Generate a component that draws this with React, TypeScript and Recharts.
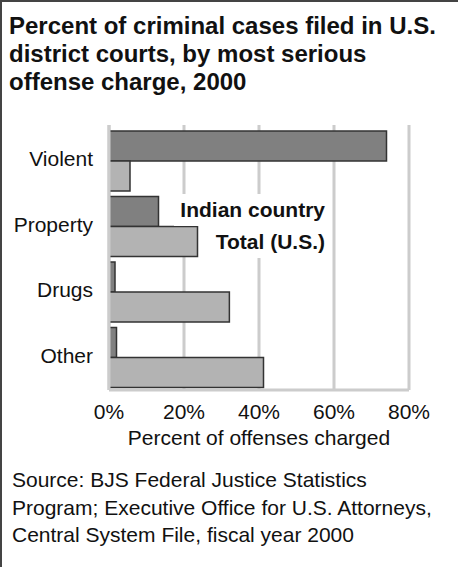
import {
  BarChart,
  Bar,
  XAxis,
  YAxis,
  CartesianGrid,
  Legend,
} from "recharts";

const categories = ["Violent", "Property", "Drugs", "Other"];
const indianCountry = [74, 13.2, 1.6, 2.0];
const totalUS = [5.6, 23.6, 32.1, 41.2];
const xTicks = [0, 20, 40, 60, 80];

const data = categories.map((name, i) => ({
  name,
  indian: indianCountry[i],
  total: totalUS[i],
}));

const FONT = '"Liberation Sans", Arial, Helvetica, sans-serif';
const frame = { stroke: "#cccccc", strokeWidth: 3 };

// labels sit inside the plot, each on its own white patch
function LegendBox({ payload }: any) {
  return (
    <div
      style={{
        width: 160,
        textAlign: "right",
        fontWeight: "bold",
        fontSize: 21,
        lineHeight: "32px",
        color: "#111",
        whiteSpace: "nowrap",
      }}
    >
      {(payload || []).map((p: any) => (
        <div key={p.value}>
          <span
            style={{
              display: "inline-block",
              background: "#fff",
              padding: "3px 5px 3px 6px",
              lineHeight: "26px",
            }}
          >
            {p.value}
          </span>
        </div>
      ))}
    </div>
  );
}

export default function App() {
  return (
    <div
      style={{
        position: "absolute",
        left: 0,
        top: 0,
        width: 458,
        height: 567,
        background: "#fff",
        fontFamily: FONT,
        color: "#111",
        overflow: "hidden",
      }}
    >
      <div
        style={{
          position: "absolute",
          left: 0,
          top: 0,
          width: 458,
          height: 567,
          borderLeft: "2px solid #444",
          borderTop: "2px solid #444",
          boxSizing: "border-box",
        }}
      />
      <div
        style={{
          position: "absolute",
          left: 9,
          top: 12,
          fontSize: 24,
          fontWeight: "bold",
          lineHeight: "28px",
          whiteSpace: "nowrap",
        }}
      >
        Percent of criminal cases filed in U.S.
        <br />
        district courts, by most serious
        <br />
        offense charge, 2000
      </div>

      <div style={{ position: "absolute", left: 0, top: 0 }}>
        <BarChart
          width={458}
          height={567}
          data={data}
          layout="vertical"
          margin={{ top: 125, right: 49, left: 9, bottom: 122 }}
          barCategoryGap={3}
          barGap={0}
          style={{ fontFamily: FONT }}
        >
          <CartesianGrid
            horizontal={false}
            stroke="#cccccc"
            strokeWidth={3}
          />
          <XAxis
            type="number"
            domain={[0, 80]}
            ticks={xTicks}
            tickFormatter={(v) => `${v}%`}
            tick={{ fill: "#111", fontSize: 21 }}
            tickLine={false}
            tickSize={6}
            tickMargin={8}
            axisLine={frame}
            height={55}
            interval={0}
            label={{
              value: "Percent of offenses charged",
              position: "insideBottom",
              offset: 0,
              fill: "#111",
              fontSize: 21,
            }}
          />
          <XAxis
            xAxisId="top"
            orientation="top"
            type="number"
            domain={[0, 80]}
            height={0}
            tick={false}
            tickLine={false}
            axisLine={frame}
          />
          <YAxis
            type="category"
            dataKey="name"
            width={100}
            padding={{ top: 3, bottom: 0 }}
            tick={{ fill: "#111", fontSize: 21, dy: -2 }}
            tickLine={false}
            tickSize={6}
            tickMargin={10}
            axisLine={frame}
          />
          <Legend
            layout="horizontal"
            verticalAlign="middle"
            align="center"
            content={<LegendBox />}
            wrapperStyle={{
              position: "absolute",
              left: 170,
              top: 194,
              width: 160,
              height: 64,
            }}
          />
          <Bar
            dataKey="indian"
            name="Indian country"
            fill="#808080"
            stroke="#333"
            strokeWidth={1.5}
            isAnimationActive={false}
          />
          <Bar
            dataKey="total"
            name="Total (U.S.)"
            fill="#b3b3b3"
            stroke="#333"
            strokeWidth={1.5}
            isAnimationActive={false}
          />
        </BarChart>
      </div>

      <div
        style={{
          position: "absolute",
          left: 12,
          top: 466,
          fontSize: 21,
          lineHeight: "27.5px",
          whiteSpace: "nowrap",
        }}
      >
        Source: BJS Federal Justice Statistics
        <br />
        Program; Executive Office for U.S. Attorneys,
        <br />
        Central System File, fiscal year 2000
      </div>
    </div>
  );
}
